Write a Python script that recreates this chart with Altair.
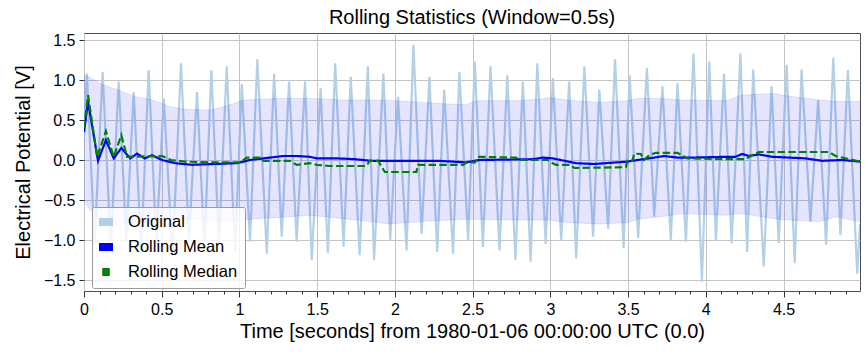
import altair as alt
import pandas as pd

# ---------------- data ----------------
orig_t = [0.000, 0.019, 0.068, 0.120, 0.172, 0.223, 0.272, 0.320, 0.368, 0.416,
          0.465, 0.513, 0.570, 0.624, 0.675, 0.727, 0.775, 0.819, 0.868, 0.918,
          0.972, 1.015, 1.068, 1.115, 1.176, 1.223, 1.272, 1.319, 1.368, 1.422,
          1.465, 1.522, 1.569, 1.616, 1.670, 1.716, 1.773, 1.826, 1.866, 1.926,
          1.970, 2.020, 2.075, 2.119, 2.172, 2.222, 2.272, 2.317, 2.374, 2.415,
          2.471, 2.514, 2.566, 2.615, 2.673, 2.723, 2.775, 2.823, 2.873, 2.916,
          2.970, 3.016, 3.070, 3.121, 3.166, 3.219, 3.275, 3.315, 3.372, 3.416,
          3.471, 3.510, 3.565, 3.621, 3.668, 3.721, 3.775, 3.818, 3.872, 3.921,
          3.975, 4.022, 4.065, 4.117, 4.166, 4.223, 4.266, 4.305, 4.373, 4.423,
          4.469, 4.520, 4.572, 4.616, 4.673, 4.723, 4.774, 4.820, 4.866, 4.914,
          4.974, 4.992]
orig_v = [0.30, 1.08, -1.05, 1.10, -1.10, 0.98, -1.00, 0.85, -1.15, 1.125,
          -1.05, 0.77, -1.20, 1.21, -1.00, 0.85, -1.10, 1.125, -1.05, 1.17,
          -1.15, 0.95, -1.02, 1.26, -1.17, 1.08, -0.96, 0.98, -1.02, 0.98,
          -1.25, 0.90, -1.16, 1.21, -1.08, 1.04, -1.19, 1.17, -1.25, 1.08,
          -1.00, 0.79, -1.13, 1.44, -0.92, 1.04, -1.15, 0.88, -1.17, 1.10,
          -1.00, 1.23, -1.09, 1.17, -1.13, 1.06, -1.25, 0.98, -1.27, 1.21,
          -1.05, 1.02, -1.00, 0.98, -1.23, 1.17, -0.96, 0.88, -0.86, 1.26,
          -1.10, 1.06, -0.97, 1.15, -0.71, 0.92, -1.00, 0.96, -1.02, 1.33,
          -1.52, 1.23, -1.00, 1.08, -1.04, 1.33, -1.15, 1.13, -1.33, 0.92,
          -1.04, 1.19, -1.29, 1.13, -0.77, 0.75, -1.06, 1.28, -0.94, 1.125,
          -1.42, -0.80]

mean_t = [0.000, 0.026, 0.090, 0.141, 0.191, 0.240, 0.298, 0.341, 0.390, 0.438,
          0.502, 0.588, 0.695, 0.836, 0.982, 1.068, 1.154, 1.282, 1.368, 1.454,
          1.497, 1.634, 1.742, 1.849, 2.063, 2.278, 2.458, 2.544, 2.887, 2.951,
          3.016, 3.166, 3.282, 3.496, 3.561, 3.668, 3.732, 3.818, 3.904, 4.131,
          4.191, 4.234, 4.277, 4.341, 4.427, 4.642, 4.749, 4.878, 4.992]
mean_v = [0.35, 0.73, -0.01, 0.25, 0.02, 0.15, 0.02, 0.08, 0.02, 0.06,
          0.00, -0.04, -0.06, -0.05, -0.04, 0.00, 0.02, 0.05, 0.05, 0.04,
          0.02, 0.02, 0.01, -0.01, -0.01, -0.01, -0.03, 0.00, 0.01, 0.03,
          0.02, -0.04, -0.05, -0.02, 0.00, 0.03, 0.05, 0.03, 0.03, 0.04,
          0.04, 0.075, 0.05, 0.07, 0.04, 0.02, -0.01, 0.00, -0.02]

med_t = [0.000, 0.026, 0.085, 0.141, 0.191, 0.240, 0.277, 0.502, 0.560, 0.650,
         0.811, 1.004, 1.047, 1.132, 1.154, 1.325, 1.368, 1.454, 1.497, 1.583,
         1.817, 1.838, 1.892, 1.935, 2.138, 2.149, 2.439, 2.461, 2.515, 2.533,
         2.780, 2.801, 2.984, 3.005, 3.037, 3.123, 3.155, 3.486, 3.496, 3.528,
         3.539, 3.582, 3.603, 3.636, 3.679, 3.818, 3.882, 4.131, 4.255, 4.298,
         4.341, 4.792, 4.835, 4.899, 4.992]
med_v = [0.40, 0.81, 0.04, 0.36, 0.04, 0.31, 0.04, 0.05, 0.00, -0.02,
         -0.03, -0.03, 0.03, 0.03, -0.01, -0.01, -0.06, -0.04, -0.06, -0.075,
         -0.075, -0.01, -0.01, -0.15, -0.15, -0.06, -0.06, -0.03, -0.03, 0.04,
         0.03, 0.00, 0.00, -0.03, -0.06, -0.06, -0.10, -0.09, -0.01, -0.01,
         0.08, 0.075, 0.00, 0.06, 0.09, 0.09, 0.02, 0.01, 0.01, 0.06,
         0.10, 0.10, 0.05, 0.02, -0.02]

band_t = [0.0, 0.03, 0.12, 0.22, 0.33, 0.44, 0.55, 0.65, 0.82, 0.94,
          1.03, 1.13, 1.24, 1.45, 1.66, 1.85, 1.96, 2.02, 2.17, 2.34,
          2.46, 2.52, 2.78, 2.93, 2.99, 3.10, 3.31, 3.50, 3.56, 3.71,
          3.84, 4.13, 4.23, 4.43, 4.53, 4.73, 4.84, 4.992]
band_hi = [1.06, 1.04, 0.94, 0.875, 0.79, 0.75, 0.67, 0.63, 0.625, 0.69,
           0.75, 0.76, 0.77, 0.77, 0.75, 0.75, 0.745, 0.74, 0.72, 0.70,
           0.69, 0.74, 0.74, 0.76, 0.78, 0.75, 0.72, 0.74, 0.77, 0.77,
           0.75, 0.74, 0.81, 0.83, 0.80, 0.75, 0.73, 0.73]
band_lo = [-0.50, -0.60, -0.80, -0.80, -0.78, -0.76, -0.73, -0.74, -0.75, -0.76,
           -0.75, -0.73, -0.72, -0.69, -0.73, -0.77, -0.80, -0.79, -0.77, -0.75,
           -0.74, -0.74, -0.75, -0.75, -0.75, -0.78, -0.80, -0.78, -0.74, -0.71,
           -0.67, -0.69, -0.67, -0.73, -0.75, -0.77, -0.71, -0.77]

series_names = ["Original", "Rolling Mean", "Rolling Median"]
series_colors = ["#b3d0e6", "#0000ff", "#008000"]
series_dashes = [[1, 0], [1, 0], [7.5, 3.25]]

x_ticks = [round(i * 0.1, 1) for i in range(50)]
y_ticks = [-1.5, -1.0, -0.5, 0.0, 0.5, 1.0, 1.5]

# ---------------- tables ----------------
lines = pd.concat([
    pd.DataFrame({"t": orig_t, "v": orig_v, "series": series_names[0], "k": 0}),
    pd.DataFrame({"t": mean_t, "v": mean_v, "series": series_names[1], "k": 1}),
    pd.DataFrame({"t": med_t, "v": med_v, "series": series_names[2], "k": 2}),
], ignore_index=True)
band = pd.DataFrame({"t": band_t, "hi": band_hi, "lo": band_lo})

FONT = "Liberation Sans"
W, H = 776, 258

xscale = alt.Scale(domain=[0, 4.992], nice=False, zero=False)
yscale = alt.Scale(domain=[-1.6375, 1.5875], nice=False, zero=False)

major = "abs(datum.value * 2 - round(datum.value * 2)) < 0.000001"
xaxis = alt.Axis(
    values=x_ticks, format="~g",
    labelExpr=f"({major}) ? datum.label : ''",
    labelOverlap=False, labelFlush=False,
    tickSize={"condition": {"test": major, "value": 6}, "value": 3},
    gridOpacity={"condition": {"test": major, "value": 1}, "value": 0},
    title="Time [seconds] from 1980-01-06 00:00:00 UTC (0.0)",
    titlePadding=4,
)
yaxis = alt.Axis(values=y_ticks, format=".1f", tickSize=5, labelFlush=False,
                 title="Electrical Potential [V]", titlePadding=10)

legend = alt.Legend(
    title=None, orient="none", legendX=8, legendY=174,
    symbolType="stroke", symbolSize=196, symbolStrokeWidth=8,
    symbolDashOffset=7.5, symbolOffset=-4,
    labelFont=FONT, labelFontSize=16.5, labelColor="black",
    labelOffset=11, padding=7, rowPadding=8, clipHeight=16,
    fillColor="rgba(255,255,255,0.8)", strokeColor="#9a9a9a", cornerRadius=2,
)

color = alt.Color("series:N", scale=alt.Scale(domain=series_names, range=series_colors),
                  legend=legend, sort=series_names)
dash = alt.StrokeDash("series:N", scale=alt.Scale(domain=series_names, range=series_dashes),
                      legend=legend, sort=series_names)

base_lines = alt.Chart(lines).mark_line(strokeWidth=2.2, clip=True).encode(
    x=alt.X("t:Q", scale=xscale, axis=xaxis),
    y=alt.Y("v:Q", scale=yscale, axis=yaxis),
    color=color,
    strokeDash=dash,
    order="t:Q",
)

orig_layer = base_lines.transform_filter("datum.k == 0")
stat_layer = base_lines.transform_filter("datum.k > 0")

band_layer = alt.Chart(band).mark_area(
    fill="blue", fillOpacity=0.1, stroke="blue", strokeOpacity=0.1, strokeWidth=1, clip=True
).encode(
    x=alt.X("t:Q", scale=xscale, axis=xaxis),
    y=alt.Y("hi:Q", scale=yscale, axis=yaxis),
    y2="lo:Q",
)

chart = alt.layer(orig_layer, band_layer, stat_layer).properties(
    width=W, height=H,
    title=alt.TitleParams("Rolling Statistics (Window=0.5s)", font=FONT, fontSize=20,
                          fontWeight="normal", color="black", offset=4),
    autosize=alt.AutoSizeParams(type="none"),
    padding={"left": 84, "top": 33, "right": 8, "bottom": 64},
).configure_view(
    stroke="#4d4d4d", strokeWidth=1
).configure_axis(
    labelFont=FONT, labelFontSize=16, labelColor="black", labelPadding=4,
    titleFont=FONT, titleFontSize=20, titleFontWeight="normal", titleColor="black",
    tickColor="#333333", tickWidth=1, domain=False,
    gridColor="#c4c4c4", gridWidth=1,
)

chart.save("out.html", embed_options={"renderer": "svg", "actions": False})
